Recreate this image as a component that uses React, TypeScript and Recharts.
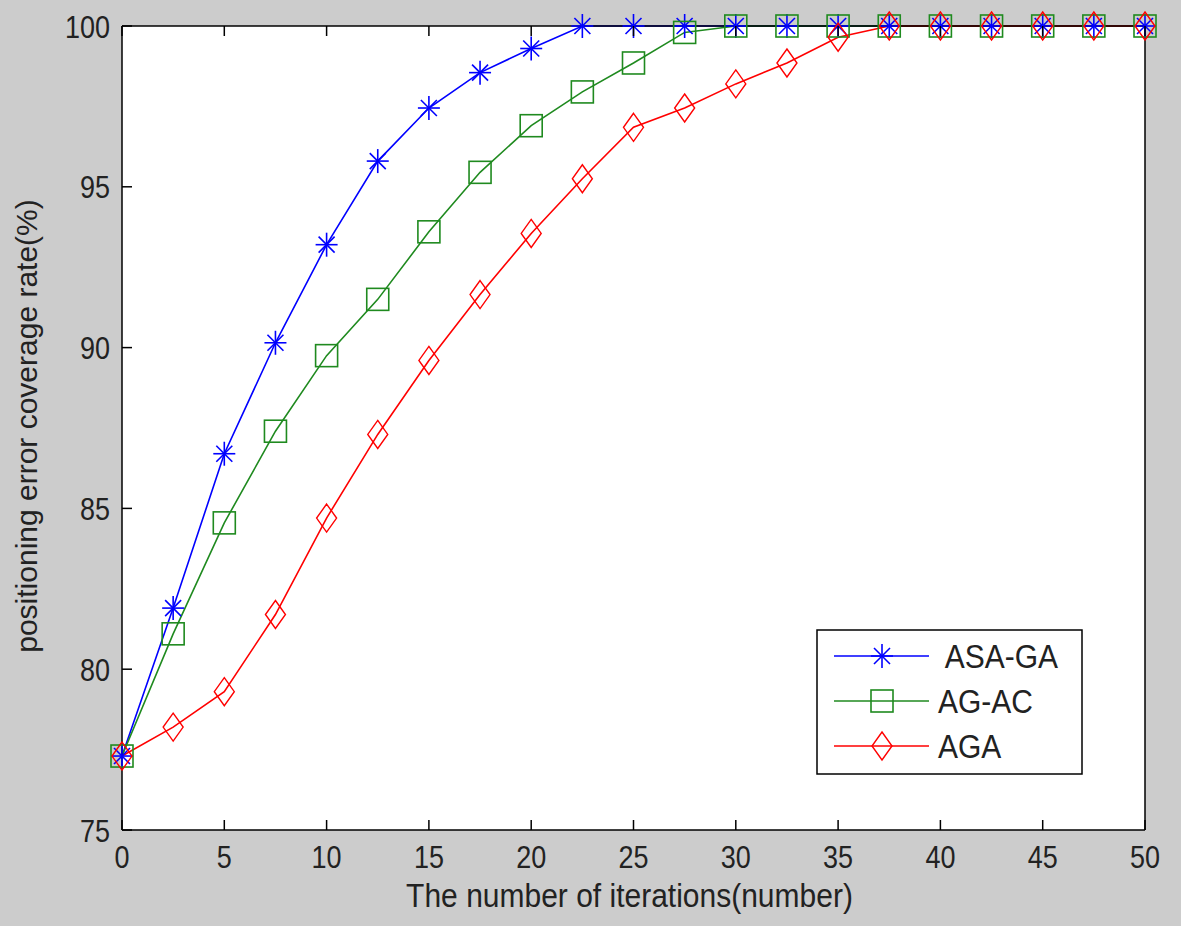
import { LineChart, Line, XAxis, YAxis, ReferenceArea } from "recharts"

const iterations = [0, 2.5, 5, 7.5, 10, 12.5, 15, 17.5, 20, 22.5, 25, 27.5, 30, 32.5, 35, 37.5, 40, 42.5, 45, 47.5, 50]
const asaGa = [77.3, 81.9, 86.7, 90.15, 93.2, 95.8, 97.45, 98.55, 99.3, 100, 100, 100, 100, 100, 100, 100, 100, 100, 100, 100, 100]
const agAc = [77.3, 81.1, 84.55, 87.4, 89.75, 91.5, 93.6, 95.45, 96.9, 97.95, 98.85, 99.8, 100, 100, 100, 100, 100, 100, 100, 100, 100]
const aga = [77.3, 78.2, 79.3, 81.7, 84.7, 87.3, 89.6, 91.65, 93.55, 95.25, 96.85, 97.45, 98.2, 98.85, 99.65, 100, 100, 100, 100, 100, 100]

const xTicks = [0, 5, 10, 15, 20, 25, 30, 35, 40, 45, 50]
const yTicks = [75, 80, 85, 90, 95, 100]

const data = iterations.map((it, i) => ({ it, asaGa: asaGa[i], agAc: agAc[i], aga: aga[i] }))

const BLUE = "#0000ff"
const GREEN = "#1f8a1f"
const RED = "#ff0000"
const TEXT = "#222"
const FONT = "'Liberation Sans', Arial, sans-serif"

const Star = ({ cx, cy, color }: any) => (
  <g stroke={color} strokeWidth={1.6}>
    <line x1={cx - 11} x2={cx + 11} y1={cy} y2={cy} />
    <line x1={cx} x2={cx} y1={cy - 12} y2={cy + 12} />
    <line x1={cx - 8} x2={cx + 8} y1={cy - 8} y2={cy + 8} />
    <line x1={cx - 8} x2={cx + 8} y1={cy + 8} y2={cy - 8} />
  </g>
)

const Square = ({ cx, cy, color }: any) => (
  <rect x={cx - 11} y={cy - 11} width={22} height={22} fill="none" stroke={color} strokeWidth={1.6} />
)

const Diamond = ({ cx, cy, color }: any) => (
  <polygon
    points={`${cx},${cy - 14} ${cx + 10},${cy} ${cx},${cy + 14} ${cx - 10},${cy}`}
    fill="none"
    stroke={color}
    strokeWidth={1.4}
  />
)

// matlab's labels come out a bit taller than Arial, so stretch them vertically
const BottomTick = ({ x, y, payload }: any) => (
  <g>
    <line x1={x} x2={x} y1={y} y2={y - 10} stroke="#000" strokeWidth={1.5} />
    <text transform={`translate(${x},${y + 38}) scale(1,1.18)`} textAnchor="middle" fontSize={27} fontFamily={FONT} fill={TEXT}>
      {payload.value}
    </text>
  </g>
)

const TopTick = ({ x, y }: any) => (
  <line x1={x} x2={x} y1={y} y2={y + 10} stroke="#000" strokeWidth={1.5} />
)

const LeftTick = ({ x, y, payload }: any) => (
  <g>
    <line x1={x} x2={x + 10} y1={y} y2={y} stroke="#000" strokeWidth={1.5} />
    <text transform={`translate(${x - 12},${y + 11.5}) scale(1,1.18)`} textAnchor="end" fontSize={27} fontFamily={FONT} fill={TEXT}>
      {payload.value}
    </text>
  </g>
)

const RightTick = ({ x, y }: any) => (
  <line x1={x} x2={x - 10} y1={y} y2={y} stroke="#000" strokeWidth={1.5} />
)

const XTitle = ({ viewBox }: any) => (
  <text
    transform={`translate(${viewBox.x + viewBox.width / 2 - 4},${viewBox.y + 77}) scale(1,1.12)`}
    textAnchor="middle"
    fontSize={30}
    fontFamily={FONT}
    fill={TEXT}
  >
    The number of iterations(number)
  </text>
)

const YTitle = ({ viewBox }: any) => (
  <text
    transform={`translate(${viewBox.x - 84},${viewBox.y + viewBox.height / 2 - 2}) rotate(-90)`}
    textAnchor="middle"
    fontSize={30}
    fontFamily={FONT}
    fill={TEXT}
  >
    positioning error coverage rate(%)
  </text>
)

const legendItems = [
  { name: " ASA-GA", color: BLUE, Mark: Star },
  { name: "AG-AC", color: GREEN, Mark: Square },
  { name: "AGA", color: RED, Mark: Diamond },
]

const LegendBox = () => (
  <svg width={267} height={146} style={{ position: "absolute", left: 816, top: 629 }}>
    <rect x={1} y={1} width={265} height={144} fill="#fff" stroke="#000" strokeWidth={1.5} />
    {legendItems.map((item, i) => {
      const cy = 27 + i * 45
      return (
        <g key={item.name}>
          <line x1={18} x2={113} y1={cy} y2={cy} stroke={item.color} strokeWidth={1.6} />
          <item.Mark cx={66} cy={cy} color={item.color} />
          <text
            transform={`translate(122,${cy + 12}) scale(1,1.12)`}
            fontSize={30}
            fontFamily={FONT}
            fill={TEXT}
            style={{ whiteSpace: "pre" }}
          >
            {item.name}
          </text>
        </g>
      )
    })}
  </svg>
)

export default function App() {
  return (
    <div style={{ position: "absolute", left: 0, top: 0, width: 1181, height: 926, background: "#cccccc" }}>
      <LineChart width={1181} height={926} data={data} margin={{ top: 25, left: 121, right: 35, bottom: 95 }}>
        <ReferenceArea x1={0} x2={50} y1={75} y2={100} fill="#ffffff" fillOpacity={1} stroke="none" />
        <XAxis
          dataKey="it"
          type="number"
          domain={[0, 50]}
          ticks={xTicks}
          height={1}
          tickSize={0}
          tickMargin={0}
          tick={<BottomTick />}
          axisLine={{ stroke: "#000", strokeWidth: 1.5 }}
          label={<XTitle />}
        />
        <XAxis
          xAxisId="top"
          orientation="top"
          dataKey="it"
          type="number"
          domain={[0, 50]}
          ticks={xTicks}
          height={1}
          tickSize={0}
          tickMargin={0}
          tick={<TopTick />}
          axisLine={{ stroke: "#000", strokeWidth: 1.5 }}
        />
        <YAxis
          type="number"
          domain={[75, 100]}
          ticks={yTicks}
          width={1}
          tickSize={0}
          tickMargin={0}
          tick={<LeftTick />}
          axisLine={{ stroke: "#000", strokeWidth: 1.5 }}
          label={<YTitle />}
        />
        <YAxis
          yAxisId="right"
          orientation="right"
          type="number"
          domain={[75, 100]}
          ticks={yTicks}
          width={1}
          tickSize={0}
          tickMargin={0}
          tick={<RightTick />}
          axisLine={{ stroke: "#000", strokeWidth: 1.5 }}
        />
        <Line
          dataKey="asaGa"
          name=" ASA-GA"
          stroke={BLUE}
          strokeWidth={1.6}
          isAnimationActive={false}
          dot={(p: any) => <Star key={`s${p.index}`} cx={p.cx} cy={p.cy} color={BLUE} />}
        />
        <Line
          dataKey="agAc"
          name="AG-AC"
          stroke={GREEN}
          strokeWidth={1.6}
          isAnimationActive={false}
          dot={(p: any) => <Square key={`q${p.index}`} cx={p.cx} cy={p.cy} color={GREEN} />}
        />
        <Line
          dataKey="aga"
          name="AGA"
          stroke={RED}
          strokeWidth={1.6}
          isAnimationActive={false}
          dot={(p: any) => <Diamond key={`d${p.index}`} cx={p.cx} cy={p.cy} color={RED} />}
        />
      </LineChart>
      <LegendBox />
    </div>
  )
}
